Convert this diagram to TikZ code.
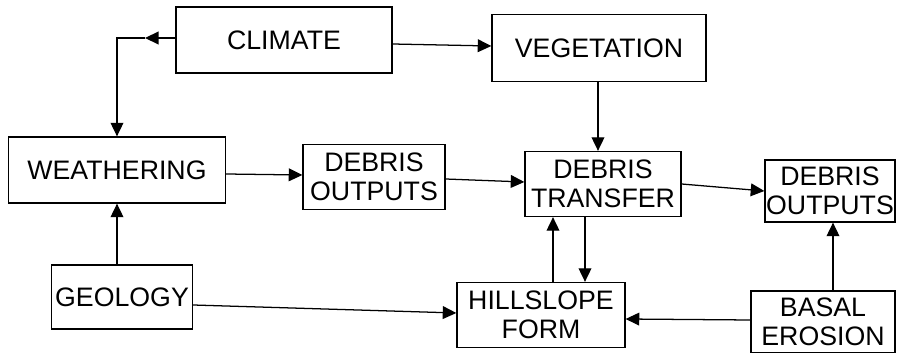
\documentclass[tikz,border=0pt]{standalone}
\usepackage{fontspec}
\setmainfont{Liberation Sans}
\usetikzlibrary{arrows.meta}
\begin{document}
\begin{tikzpicture}[x=0.025cm,y=-0.025cm,
  box/.style={draw,line width=0.9pt,rectangle,align=center,inner sep=0pt,
    font=\fontsize{19}{21}\selectfont},
  arr/.style={line width=0.9pt,-{Triangle[length=0.34cm,width=0.32cm]}}]
\useasboundingbox (0,0) rectangle (897,353);
\node[box,minimum width=5.4cm,minimum height=1.65cm] (climate) at (284,40) {CLIMATE};
\node[box,minimum width=5.35cm,minimum height=1.675cm] (veg) at (599,48) {VEGETATION};
\node[box,minimum width=5.425cm,minimum height=1.65cm] (weath) at (117,170) {WEATHERING};
\node[box,minimum width=3.55cm,minimum height=1.625cm] (do1) at (374,177) {DEBRIS\\OUTPUTS};
\node[box,minimum width=3.9cm,minimum height=1.625cm] (dt) at (603,184) {DEBRIS\\TRANSFER};
\node[box,minimum width=3.25cm,minimum height=1.55cm] (do2) at (830,191) {DEBRIS\\OUTPUTS};
\node[box,minimum width=3.525cm,minimum height=1.6cm] (geol) at (122,297) {GEOLOGY};
\node[box,minimum width=4.2cm,minimum height=1.625cm] (hill) at (541,315) {HILLSLOPE\\FORM};
\node[box,minimum width=3.6cm,minimum height=1.55cm] (basal) at (823,322) {BASAL\\EROSION};
\coordinate (ca) at (145,38);
\coordinate (xw) at (117,0);
\coordinate (xv) at (598,0);
\coordinate (xu) at (553,0);
\coordinate (xd) at (585,0);
\coordinate (xb) at (833,0);
\draw[arr] (climate.west |- ca) -- (ca);
\draw[arr] (ca) -| (weath.north);
\draw[arr] ([yshift=-0.1cm]climate.east) -- ([yshift=0.05cm]veg.west);
\draw[arr] (veg.south -| xv) -- (dt.north -| xv);
\draw[arr] ([yshift=-0.1cm]weath.east) -- ([yshift=0.05cm]do1.west);
\draw[arr] ([yshift=-0.05cm]do1.east) -- ([yshift=0.05cm]dt.west);
\draw[arr] (dt.east) -- (do2.west);
\draw[arr] (geol.north -| xw) -- (weath.south -| xw);
\draw[arr] ([yshift=-0.2cm]geol.east) -- ([yshift=0.05cm]hill.west);
\draw[arr] ([yshift=0.05cm]basal.west) -- ([yshift=-0.1cm]hill.east);
\draw[arr] (hill.north -| xu) -- (dt.south -| xu);
\draw[arr] (dt.south -| xd) -- (hill.north -| xd);
\draw[arr] (basal.north -| xb) -- (do2.south -| xb);
\end{tikzpicture}
\end{document}
